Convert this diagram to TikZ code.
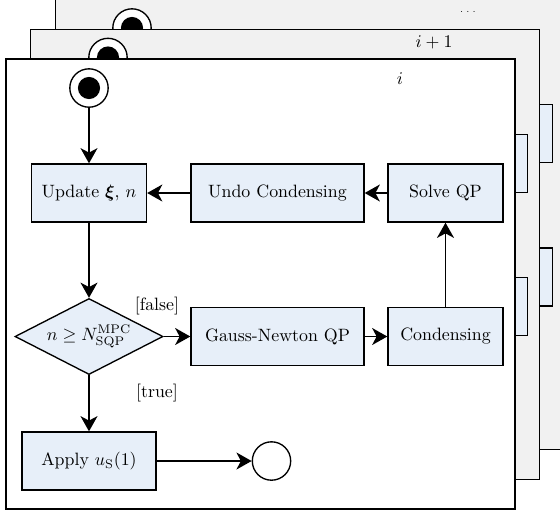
\documentclass[tikz,border=0pt]{standalone}
\usepackage{amsmath,bm}
\usetikzlibrary{shapes.geometric,arrows.meta}
\definecolor{boxblue}{RGB}{231,239,249}
\definecolor{framegray}{RGB}{241,241,241}
\tikzset{
  flowbox/.style={draw, line width=0.75pt, fill=boxblue, minimum height=32.5pt, inner sep=2pt},
  smallbox/.style={flowbox, minimum width=64.4pt},
  widebox/.style={flowbox, minimum width=96.9pt},
  applybox/.style={flowbox, minimum width=75pt},
  decision/.style={draw, line width=0.75pt, fill=boxblue, diamond, aspect=1.95,
    minimum width=82.9pt, minimum height=42.6pt, inner sep=0pt},
  startnode/.style={circle, draw, line width=0.75pt, fill=white, minimum size=21.5pt, inner sep=0pt},
  endnode/.style={circle, draw, line width=0.75pt, fill=white, minimum size=21.5pt, inner sep=0pt},
  arr/.style={line width=0.95pt, -{Stealth[length=8.5pt,width=9.5pt,inset=2.5pt]}},
  framebox/.style={draw, line width=0.8pt},
  guard/.style={inner sep=0pt},
}
\begin{document}
\begin{tikzpicture}[x=0.56pt,y=-0.56pt]
  \useasboundingbox (0,0) rectangle (560,513);
  \clip (0,0) rectangle (560,513);
  % ---- back frame (only its visible parts)
  \draw[framebox, fill=framegray] (55.5,-0.5) rectangle (564.5,449.5);
  \node[startnode] (astart) at (132,28) {};
  \fill (astart.center) circle [radius=6.2pt];
  \node[smallbox] (asolve) at (495,133.5) {};
  \node[smallbox] (acond) at (495,277) {};
  \node[inner sep=0pt] (labback) at (469,12) {\tiny$\dots$};
  % ---- middle frame (only its visible parts)
  \draw[framebox, fill=framegray] (30.5,29.25) rectangle (539.5,479.25);
  \node[startnode] (bstart) at (108,57.5) {};
  \fill (bstart.center) circle [radius=6.2pt];
  \node[smallbox] (bsolve) at (470,163.25) {};
  \node[smallbox] (bcond) at (470,306.75) {};
  \node[inner sep=0pt] (labmid) at (434,42) {$i+1$};
  % ---- front frame
  \draw[framebox, fill=white] (6,59) rectangle (515,509);
  \node[inner sep=0pt] (labfront) at (400,79) {$i$};
  \node[startnode] (start) at (89,88) {};
  \fill (start.center) circle [radius=6.2pt];
  \node[smallbox] (upd) at (89,193) {Update $\boldsymbol{\xi}$, $n$};
  \node[widebox] (undo) at (277.5,193) {Undo Condensing};
  \node[smallbox] (solve) at (445.5,193) {Solve QP};
  \node[decision] (dec) at (89,336.5) {$n \geq N^{\mathrm{MPC}}_{\mathrm{SQP}}$};
  \node[widebox] (gn) at (277.5,336.5) {Gauss-Newton QP};
  \node[smallbox] (cond) at (445.5,336.5) {Condensing};
  \node[applybox] (apply) at (89,461) {Apply $u_{\mathrm{S}}(1)$};
  \node[endnode] (end) at (271.5,461) {};
  \node[guard] (false) at (157,306) {[false]};
  \node[guard] (true) at (157,393) {[true]};
  \draw[arr] (start) -- (upd);
  \draw[arr] (undo) -- (upd);
  \draw[arr] (solve) -- (undo);
  \draw[arr] (cond) -- (solve);
  \draw[arr] (upd) -- (dec);
  \draw[arr] (dec) -- (gn);
  \draw[arr] (gn) -- (cond);
  \draw[arr] (dec) -- (apply);
  \draw[arr] (apply) -- (end);
\end{tikzpicture}
\end{document}
